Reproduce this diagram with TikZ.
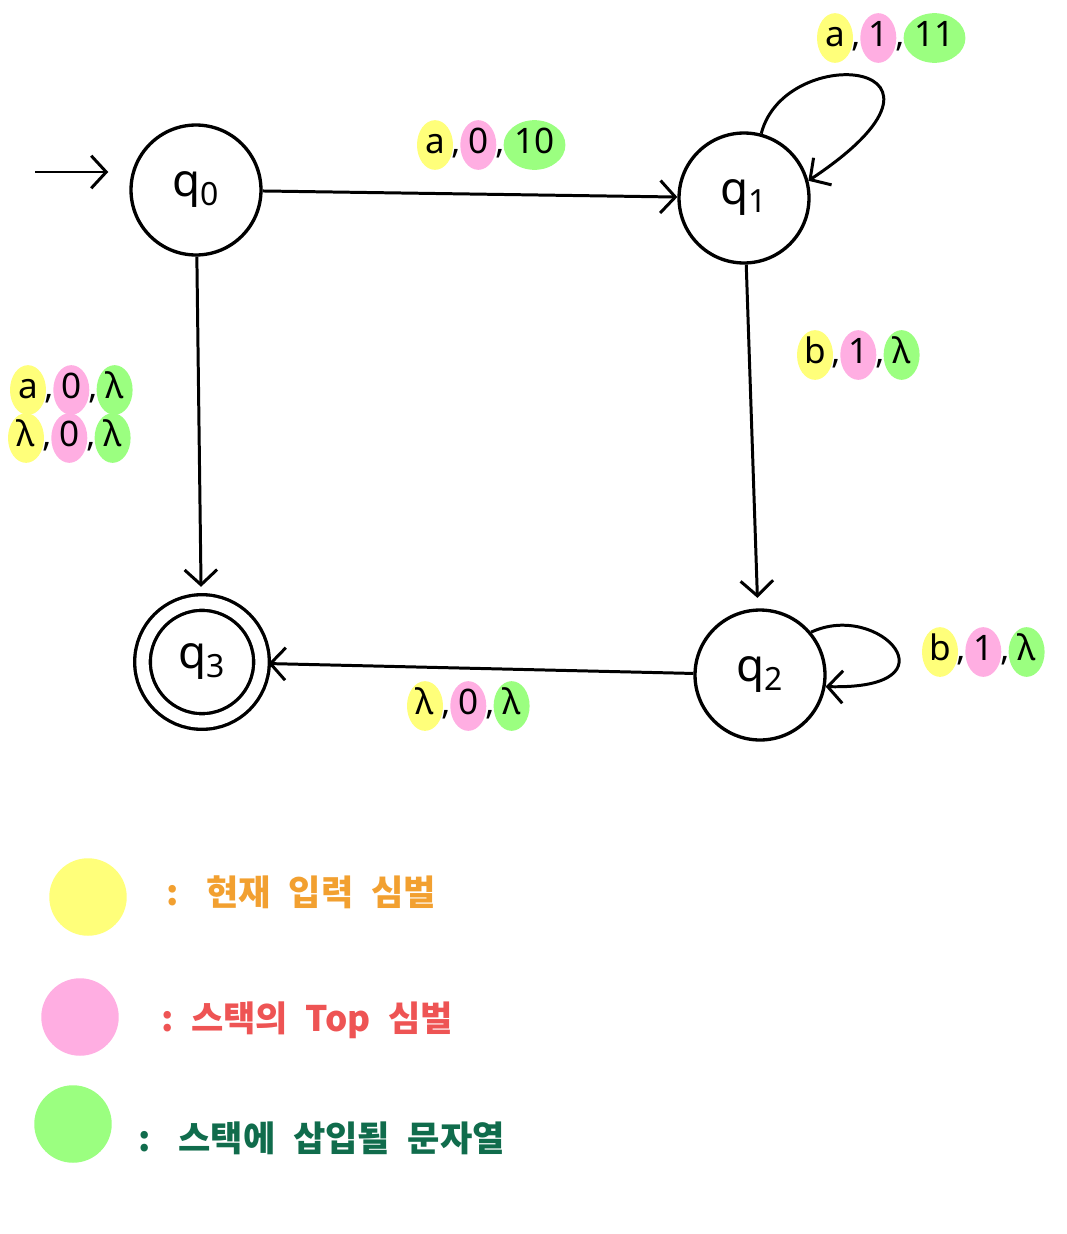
\documentclass[tikz,border=0pt]{standalone}
\usepackage{fontspec}
\setmainfont{Noto Sans}
\newfontfamily\kofont{Noto Sans CJK KR}
\usetikzlibrary{positioning,arrows.meta,shapes.geometric}
\definecolor{InYellow}{RGB}{255,255,122}
\definecolor{TopPink}{RGB}{255,174,226}
\definecolor{PushGreen}{RGB}{155,255,128}
\definecolor{LegOrange}{RGB}{242,160,48}
\definecolor{LegRed}{RGB}{238,84,84}
\definecolor{LegGreen}{RGB}{16,108,76}
\tikzset{
  flow/.style={-{Straight Barb[length=3mm,width=6.5mm]},line width=1.7pt,draw=black},
  state/.style={circle,draw,line width=1.9pt,minimum size=2.6cm,inner sep=0pt,
    font=\fontsize{26}{28}\selectfont},
  finalstate/.style={double,double distance=7pt,minimum size=2.38cm},
  sym/.style={ellipse,inner sep=1pt,minimum width=0.72cm,minimum height=0.95cm,
    text height=14pt,text depth=4pt,font=\fontsize{20}{22}\selectfont\bfseries},
  insym/.style={sym,fill=InYellow},
  topsym/.style={sym,fill=TopPink},
  pushsym/.style={sym,fill=PushGreen},
  commasym/.style={inner sep=0pt,text height=14pt,text depth=4pt,
    font=\fontsize{20}{22}\selectfont\bfseries},
  legdot/.style={circle,minimum size=1.55cm,inner sep=0pt},
  legtext/.style={anchor=west,font=\kofont\bfseries\fontsize{20}{24}\selectfont}
}
\newcommand{\pdalabel}[5]{%
  \node[insym] (#1-in) at (#2) {#3};
  \node[commasym,right=-1pt of #1-in] (#1-ca) {,};
  \node[topsym,right=-1pt of #1-ca] (#1-top) {#4};
  \node[commasym,right=-1pt of #1-top] (#1-cb) {,};
  \node[pushsym,right=-1pt of #1-cb] (#1-push) {#5};
}
\newcommand{\legsp}{\hspace{0.5em}}

\begin{document}
\begin{tikzpicture}[x=0.02cm,y=-0.02cm]
  \useasboundingbox (0,0) rectangle (1066,1234);

  \node[state] (q0) at (196,190) {q\textsubscript{0}};
  \node[state] (q1) at (744,198) {q\textsubscript{1}};
  \node[state] (q2) at (760,675) {q\textsubscript{2}};
  \node[state,finalstate] (q3) at (202,662) {q\textsubscript{3}};
  \coordinate (init) at (35,172);

  \draw[flow,shorten >=12pt] (init) -- (init -| q0.west);
  \draw[flow] (q0) -- (q1);
  \draw[flow,shorten >=6pt] (q1) -- (q2);
  \draw[flow,shorten >=8pt] (q0) -- (q3);
  \draw[flow,shorten >=3pt] (q2) -- (q3);
  \draw[flow] (q1.75) .. controls (785,40) and (990,60) .. (q1.15);
  \draw[flow] (q2.40) .. controls (880,600) and (960,690) .. (q2.-10);

  \pdalabel{q0q1}{435,145}{a}{0}{10}
  \pdalabel{q1q1}{835,38}{a}{1}{11}
  \pdalabel{q1q2}{815,355}{b}{1}{λ}
  \pdalabel{q2q2}{940,652}{b}{1}{λ}
  \pdalabel{q2q3}{425,706}{λ}{0}{λ}
  \pdalabel{q0q3a}{28,390}{a}{0}{λ}
  \pdalabel{q0q3b}{26,438}{λ}{0}{λ}

  \node[legdot,fill=InYellow] (key-in) at (88,897) {};
  \node[legtext,text=LegOrange] (key-in-txt) at (160,892) {:\hspace{0.8em}현재\legsp 입력\legsp 심벌};
  \node[legdot,fill=TopPink] (key-top) at (80,1017) {};
  \node[legtext,text=LegRed] (key-top-txt) at (155,1020) {:\hspace{0.5em}스택의\legsp Top\legsp 심벌};
  \node[legdot,fill=PushGreen] (key-push) at (73,1124) {};
  \node[legtext,text=LegGreen] (key-push-txt) at (132,1138) {:\hspace{0.8em}스택에\legsp 삽입될\legsp 문자열};
\end{tikzpicture}
\end{document}
